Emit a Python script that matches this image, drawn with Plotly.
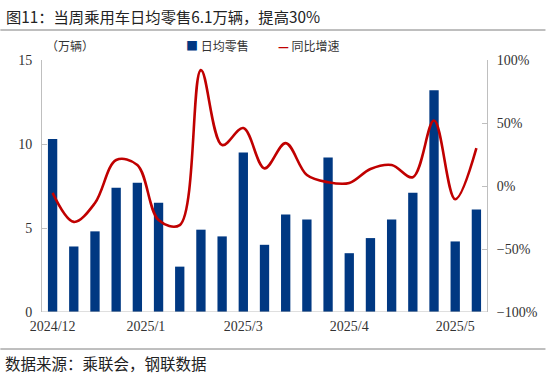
import plotly.graph_objects as go

# ---- data ----
week_idx = list(range(21))
daily_retail = [10.3, 3.9, 4.8, 7.4, 7.7, 6.5, 2.7, 4.9, 4.5, 9.5, 4.0,
                5.8, 5.5, 9.2, 3.5, 4.4, 5.5, 7.1, 13.2, 4.2, 6.1]
yoy_growth = [-5.5, -28.5, -13.5, 20.6, 16.7, -27, -31, 92, 32.5, 46, 14,
              34, 8.7, 3, 2.4, 13.5, 16.7, 7, 52, -10.5, 30]
tick_pos = [0, 4.4, 9, 14, 19]
tick_labels = ["2024/12", "2025/1", "2025/3", "2025/4", "2025/5"]

BLUE = "#003882"
RED = "#C00000"
AXIS = "#BFBFBF"
SERIF = "Liberation Serif, Times New Roman, serif"
CJK = "Noto Sans CJK SC"

fig = go.Figure()
fig.add_trace(go.Bar(x=week_idx, y=daily_retail, name="日均零售",
                     marker=dict(color=BLUE, line=dict(width=0)), width=0.44,
                     yaxis="y"))
fig.add_trace(go.Scatter(x=week_idx, y=yoy_growth, name="同比增速", mode="lines",
                         line=dict(color=RED, width=2.6, shape="spline", smoothing=1.0),
                         yaxis="y2"))

fig.update_layout(
    width=550, height=381,
    margin=dict(l=42, r=59, t=60, b=69),
    paper_bgcolor="white", plot_bgcolor="white",
    showlegend=False,
    xaxis=dict(range=[-0.5, 20.5], tickvals=tick_pos, ticktext=tick_labels,
               showline=False, showgrid=False, zeroline=False, ticks="",
               ticklabelstandoff=4,
               tickfont=dict(family=SERIF, size=14, color="#333333")),
    yaxis=dict(range=[0, 15], dtick=5, showgrid=False, zeroline=False,
               showline=True, linecolor=AXIS, linewidth=1,
               ticks="inside", ticklen=5, tickcolor=AXIS,
               ticklabelstandoff=6,
               tickfont=dict(family=SERIF, size=14, color="#333333")),
    yaxis2=dict(range=[-100, 100], dtick=50, ticksuffix="%", overlaying="y",
                side="right", showgrid=False, zeroline=False,
                showline=True, linecolor=AXIS, linewidth=1,
                ticks="inside", ticklen=5, tickcolor=AXIS,
                ticklabelstandoff=6,
                tickfont=dict(family=SERIF, size=14, color="#333333")),
)

# baseline at 0
fig.add_shape(type="line", xref="paper", yref="y", x0=0, x1=1, y0=0, y1=0,
              line=dict(color=AXIS, width=1))
# header / footer rules
fig.add_shape(type="line", xref="paper", yref="paper", x0=-42/449, x1=1+59/449,
              y0=(312-30)/252, y1=(312-30)/252, line=dict(color="#7F7F7F", width=1))
fig.add_shape(type="line", xref="paper", yref="paper", x0=-42/449, x1=1+59/449,
              y0=(312-349)/252, y1=(312-349)/252, line=dict(color="#7F7F7F", width=1))

def px_x(px):
    return (px - 42) / 449

def px_y(py):
    return (312 - py) / 252

fig.add_annotation(text="图11：当周乘用车日均零售6.1万辆，提高30%", xref="paper", yref="paper",
                   x=px_x(4), y=px_y(16), xanchor="left", yanchor="middle", showarrow=False,
                   font=dict(family=CJK, size=15.3, color="#222222"))
fig.add_annotation(text="（万辆）", xref="paper", yref="paper",
                   x=px_x(44), y=px_y(46), xanchor="left", yanchor="middle", showarrow=False,
                   font=dict(family=CJK, size=12, color="#333333"))
fig.add_annotation(text=f"<span style='color:{BLUE}'>■</span> 日均零售", xref="paper", yref="paper",
                   x=px_x(185), y=px_y(46), xanchor="left", yanchor="middle", showarrow=False,
                   font=dict(family=CJK, size=12, color="#333333"))
fig.add_annotation(text=f"<span style='color:{RED}'><b>—</b></span> 同比增速", xref="paper", yref="paper",
                   x=px_x(278), y=px_y(46), xanchor="left", yanchor="middle", showarrow=False,
                   font=dict(family=CJK, size=12, color="#333333"))
fig.add_annotation(text="数据来源：乘联会，钢联数据", xref="paper", yref="paper",
                   x=px_x(3), y=px_y(363), xanchor="left", yanchor="middle", showarrow=False,
                   font=dict(family=CJK, size=15.5, color="#222222"))

fig.write_html("out.html", config={"displayModeBar": False},
               post_script="document.body.style.margin='0';")
